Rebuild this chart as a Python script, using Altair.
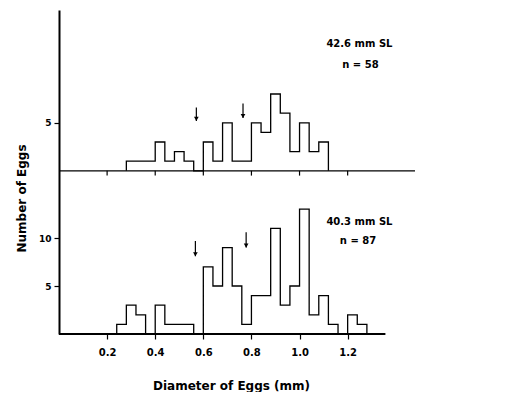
import altair as alt
import pandas as pd

# ---- data ----
top_starts = [0.28, 0.32, 0.36, 0.40, 0.44, 0.48, 0.52, 0.56, 0.60, 0.64, 0.68,
              0.72, 0.76, 0.80, 0.84, 0.88, 0.92, 0.96, 1.00, 1.04, 1.08]
top_counts = [1, 1, 1, 3, 1, 2, 1, 0, 3, 1, 5, 1, 1, 5, 4, 8, 6, 2, 5, 2, 3]
top_end = 1.12

bot_starts = [0.24, 0.28, 0.32, 0.36, 0.40, 0.44, 0.48, 0.52, 0.56, 0.60, 0.64,
              0.68, 0.72, 0.76, 0.80, 0.84, 0.88, 0.92, 0.96, 1.00, 1.04, 1.08,
              1.12, 1.16, 1.20, 1.24]
bot_counts = [1, 3, 2, 0, 3, 1, 1, 1, 0, 7, 5, 9, 5, 1, 4, 4, 11, 3, 5, 13, 2, 4,
              1, 0, 2, 1]
bot_end = 1.28

x_ticks = [0.2, 0.4, 0.6, 0.8, 1.0, 1.2]
panels = ["top", "bottom"]
panel_offset = {"top": 17, "bottom": 0}   # top panel stacked above the bottom one

# arrows (diameter, top of shaft, tip) in counts of each panel
arrow_panel = ["top", "top", "bottom", "bottom"]
arrow_x = [0.571, 0.765, 0.567, 0.778]
arrow_top = [6.6, 7.0, 9.7, 10.6]
arrow_tip = [5.2, 5.5, 8.1, 9.0]

# panel labels
label_panel = ["top", "top", "bottom", "bottom"]
label_text = ["42.6 mm SL", "n = 58", "40.3 mm SL", "n = 87"]
label_x = [1.249, 1.253, 1.249, 1.243]
label_y = [13.2, 11.0, 11.7, 9.7]

# ---- build tables ----
rows = []
for panel, starts, counts, end in [("top", top_starts, top_counts, top_end),
                                   ("bottom", bot_starts, bot_counts, bot_end)]:
    i = 0
    rows.append({"panel": panel, "i": i, "x": starts[0], "count": 0}); i += 1
    for s, c in zip(starts, counts):
        rows.append({"panel": panel, "i": i, "x": s, "count": c}); i += 1
    rows.append({"panel": panel, "i": i, "x": end, "count": 0})
hist = pd.DataFrame(rows)
hist["y"] = hist["count"] + hist["panel"].map(panel_offset)

base_df = pd.DataFrame({"panel": panels, "x0": [0, 0], "x1": [1.48, 1.357],
                        "w": [1.2, 2.2]})
base_df["y"] = base_df["panel"].map(panel_offset)

tick_df = pd.DataFrame({"x": x_ticks})
tick_df["y"] = panel_offset["top"]
tick_df["y2"] = panel_offset["top"] - 0.5

arr = pd.DataFrame({"panel": arrow_panel, "x": arrow_x, "top": arrow_top, "tip": arrow_tip})
arr["y1"] = arr["top"] + arr["panel"].map(panel_offset)
arr["y2"] = arr["tip"] + arr["panel"].map(panel_offset)

lab = pd.DataFrame({"panel": label_panel, "text": label_text, "x": label_x, "yy": label_y})
lab["y"] = lab["yy"] + lab["panel"].map(panel_offset)

FONT = "DejaVu Sans"
xscale = alt.Scale(domain=[0, 1.48], nice=False, zero=False)
yscale = alt.Scale(domain=[0, 33.75], nice=False, zero=False)

xaxis = alt.Axis(values=x_ticks, format=".1f", domain=False, grid=False,
                 tickSize=5, tickWidth=1.2, tickColor="black",
                 labelFont=FONT, labelFontSize=10, labelFontWeight="bold",
                 labelColor="black", labelPadding=8,
                 title="Diameter of Eggs (mm)", titleFont=FONT, titleFontSize=12,
                 titleFontWeight="bold", titleColor="black",
                 titleX=172, titleY=51, titleAlign="center", titleBaseline="middle")
yaxis = alt.Axis(values=[5, 10, 22],
                 labelExpr="datum.value > 17 ? format(datum.value - 17, 'd') : datum.label",
                 domain=True, domainWidth=2, domainColor="black", grid=False,
                 tickSize=5, tickWidth=1.2, tickColor="black",
                 labelFont=FONT, labelFontSize=9, labelFontWeight="bold",
                 labelColor="black", labelPadding=3,
                 title="Number of Eggs", titleFont=FONT, titleFontSize=12,
                 titleFontWeight="bold", titleColor="black",
                 titleX=-38, titleY=188, titleAngle=270, titleAlign="center",
                 titleBaseline="middle")

hist_layer = alt.Chart(hist).mark_line(interpolate="step-after", color="black",
                                       strokeWidth=1.3).encode(
    x=alt.X("x:Q", scale=xscale, axis=xaxis),
    y=alt.Y("y:Q", scale=yscale, axis=yaxis),
    detail="panel:N",
    order="i:Q",
)

base_layer = alt.Chart(base_df).mark_rule(color="black").encode(
    x="x0:Q", x2="x1:Q", y="y:Q",
    strokeWidth=alt.StrokeWidth("w:Q", scale=None),
)

tick_layer = alt.Chart(tick_df).mark_rule(color="black", strokeWidth=1.2).encode(
    x="x:Q", y="y:Q", y2="y2:Q")

shaft = alt.Chart(arr).mark_rule(color="black", strokeWidth=1.2).encode(
    x="x:Q", y="y1:Q", y2="y2:Q")
head = alt.Chart(arr).mark_point(shape="triangle-down", filled=True, color="black",
                                 size=22, opacity=1, yOffset=-2).encode(
    x="x:Q", y="y2:Q")

text_layer = alt.Chart(lab).mark_text(font=FONT, fontSize=10, fontWeight="bold",
                                      color="black", align="center",
                                      baseline="middle").encode(
    x="x:Q", y="y:Q", text="text:N")

chart = alt.layer(hist_layer, base_layer, tick_layer, shaft, head, text_layer).properties(
    width=356, height=324,
    autosize=alt.AutoSizeParams(type="none"),
    padding={"left": 51, "top": 2, "right": 94, "bottom": 58},
    background="white",
).configure_view(stroke=None)

chart.save("out.html", embed_options={"renderer": "svg", "actions": False})
